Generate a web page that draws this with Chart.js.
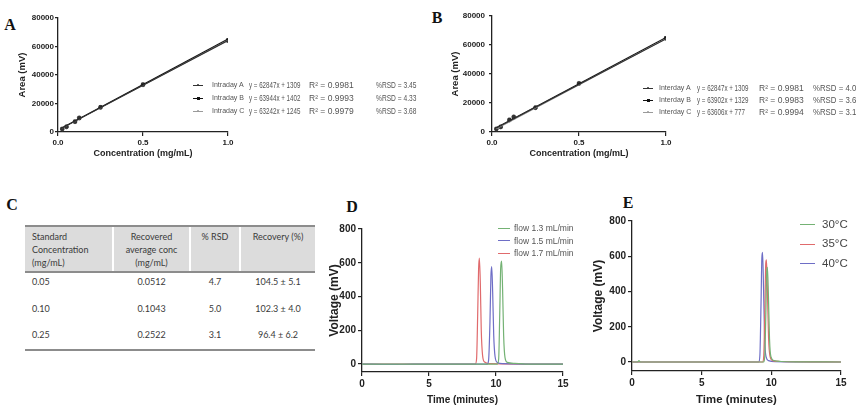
<!DOCTYPE html>
<html><head><meta charset="utf-8">
<script src="https://cdn.jsdelivr.net/npm/chart.js@4"></script>
<style>
html,body{margin:0;padding:0;background:#fff;}
body{width:861px;height:412px;overflow:hidden;position:relative;font-family:"Liberation Sans",Arial,sans-serif;}
canvas{position:absolute;}
.plbl{position:absolute;font-family:"Liberation Serif","Times New Roman",serif;font-weight:bold;font-size:16px;line-height:1;color:#111;transform:translate(-50%,-50%);}
.lg{position:absolute;white-space:nowrap;line-height:1;transform-origin:0 50%;}
.smp{position:absolute;height:0;}
.dot{position:absolute;}
.tbl{position:absolute;font-family:Lato,"Open Sans",sans-serif;font-size:9px;color:#3a3a3a;}
.cell{position:absolute;white-space:nowrap;line-height:13px;}
.hbg{position:absolute;background:#dcdcdc;}
.rule{position:absolute;background:#8c8c8c;}
</style></head>
<body>
<script>
// ---------- DATA ----------
// Panel A (intraday calibration)
const concA = [0.025, 0.05, 0.1, 0.125, 0.25, 0.5, 1.0];
const intraA = [2100, 3600, 7200, 10000, 17300, 33200, 64100];
const intraB = [2300, 3900, 7500, 9700, 17600, 33500, 64600];
const intraC = [2000, 3400, 7000, 9400, 16900, 32800, 64300];
const fitX = [0.025, 1.0];
const intraFitA = [2900, 64150];
const intraFitB = [3000, 65350];
const intraFitC = [2800, 64500];
const intraNames = ["Intraday A", "Intraday B", "Intraday C"];
const intraEq = ["y = 62847x + 1309", "y = 63944x + 1402", "y = 63242x + 1245"];
const intraR2 = ["R\u00b2 = 0.9981", "R\u00b2 = 0.9993", "R\u00b2 = 0.9979"];
const intraRsd = ["%RSD = 3.45", "%RSD = 4.33", "%RSD = 3.68"];
// Panel B (interday calibration)
const concB = [0.025, 0.05, 0.1, 0.125, 0.25, 0.5, 1.0];
const interA = [2100, 3500, 8300, 10500, 16800, 33600, 64600];
const interB = [2300, 3700, 8600, 9900, 17000, 33400, 64900];
const interC = [2000, 3300, 8000, 10200, 16500, 33200, 64300];
const interFitA = [2900, 64150];
const interFitB = [2900, 65230];
const interFitC = [2300, 64380];
const interNames = ["Interday A", "Interday B", "Interday C"];
const interEq = ["y = 62847x + 1309", "y = 63902x + 1329", "y = 63606x + 777"];
const interR2 = ["R\u00b2 = 0.9981", "R\u00b2 = 0.9983", "R\u00b2 = 0.9994"];
const interRsd = ["%RSD = 4.0", "%RSD = 3.6", "%RSD = 3.1"];
const calXTicks = [0, 0.5, 1.0];
const calYTicks = [0, 20000, 40000, 60000, 80000];
// Panel C (table)
const tblHead = [["Standard", "Concentration", "(mg/mL)"], ["Recovered", "average conc", "(mg/mL)"], ["% RSD"], ["Recovery (%)"]];
const stdConc = ["0.05", "0.10", "0.25"];
const recConc = ["0.0512", "0.1043", "0.2522"];
const recRsd = ["4.7", "5.0", "3.1"];
const recovery = ["104.5 \u00b1 5.1", "102.3 \u00b1 4.0", "96.4 \u00b1 6.2"];
// Panel D (flow rate chromatograms)
const flowNames = ["flow 1.3 mL/min", "flow 1.5 mL/min", "flow 1.7 mL/min"];
const f13Time = [0, 10.1, 10.2, 10.28, 10.35, 10.42, 10.49, 10.57, 10.67, 10.85, 11.4, 12.2, 15];
const f13Volt = [0, 0, 30, 300, 570, 610, 450, 170, 40, 10, 4, 0, 0];
const f15Time = [0, 2.2, 3.8, 9.35, 9.45, 9.55, 9.62, 9.68, 9.75, 9.83, 9.93, 10.1, 10.5, 15];
const f15Volt = [0, -2, 0, 0, 25, 250, 520, 578, 430, 170, 45, 10, 3, 0];
const f17Time = [0, 8.45, 8.55, 8.63, 8.7, 8.76, 8.83, 8.9, 9.0, 9.15, 9.5, 15];
const f17Volt = [0, 0, 30, 280, 560, 628, 480, 200, 50, 12, 3, 0];
// Panel E (temperature chromatograms)
const tempNames = ["30\u00b0C", "35\u00b0C", "40\u00b0C"];
const t30Time = [0, 0.4, 0.5, 0.6, 9.45, 9.53, 9.61, 9.67, 9.72, 9.79, 9.87, 9.97, 10.2, 10.7, 12, 15];
const t30Volt = [0, 0, 8, 0, 0, 35, 290, 510, 537, 380, 130, 30, 8, 3, 1, 0];
const t35Time = [0, 9.38, 9.46, 9.54, 9.6, 9.65, 9.72, 9.8, 9.9, 10.1, 10.6, 15];
const t35Volt = [0, 0, 40, 320, 560, 579, 400, 140, 35, 8, 3, 0];
const t40Time = [0, 2, 4, 9.1, 9.18, 9.26, 9.32, 9.37, 9.44, 9.52, 9.62, 9.8, 10.3, 15];
const t40Volt = [0, 0, 0, 0, 40, 330, 590, 622, 420, 130, 30, 8, 2, 0];
const chromXTicks = [0, 5, 10, 15];
const chromYTicks = [0, 200, 400, 600, 800];

// ---------- HELPERS ----------
const FONT = '"Liberation Sans", Arial, sans-serif';
const GREEN = '#74b274', BLUE = '#6e6ec6', RED = '#e06a6c';
const zip = (xs, ys) => xs.map((x, i) => ({x: x, y: ys[i]}));

function el(tag, cls, style, text) {
  const e = document.createElement(tag);
  if (cls) e.className = cls;
  Object.assign(e.style, style || {});
  if (text != null) e.textContent = text;
  document.body.appendChild(e);
  return e;
}
function makeCanvas(left, top, w, h) {
  const c = document.createElement('canvas');
  c.width = w; c.height = h;
  c.style.left = left + 'px'; c.style.top = top + 'px';
  c.style.width = w + 'px'; c.style.height = h + 'px';
  document.body.appendChild(c);
  return c;
}
function prismScale(o) {
  return {
    type: 'linear', min: o.min, max: o.max,
    afterFit: sc => { if (o.w != null) sc.width = o.w; if (o.h != null) sc.height = o.h; },
    afterBuildTicks: sc => { sc.ticks = o.ticks.map(v => ({value: v})); },
    grid: {display: true, drawOnChartArea: false, drawTicks: true, tickLength: o.tickLen || 4, color: '#222', lineWidth: 1.2},
    border: {display: true, color: '#222', width: 1.3},
    ticks: {color: '#222', font: {family: FONT, size: o.fs, weight: 'bold'}, padding: o.tpad, maxRotation: 0, minRotation: 0, autoSkip: false,
            callback: o.fmt || (v => String(v))},
    title: {display: true, text: o.title, color: '#222', font: {family: FONT, size: o.tfs, weight: 'bold'}, padding: o.titlePad}
  };
}
function baseOpts(pad, xs, ys) {
  return {
    responsive: false, animation: false, devicePixelRatio: 1,
    layout: {padding: pad},
    plugins: {legend: {display: false}, tooltip: {enabled: false}},
    scales: {x: xs, y: ys}
  };
}
function calChart(canvas, pad, yW, yTitlePad, tpadY, conc, series, fits) {
  const styles = [
    {c: '#333', ps: 'circle', r: 2},
    {c: '#111', ps: 'rect', r: 2},
    {c: '#8a8a8a', ps: 'circle', r: 1.6}
  ];
  const ds = [];
  fits.forEach((f, i) => ds.push({data: zip(fitX, f), showLine: true, borderColor: styles[i].c, borderWidth: 1.1, pointRadius: 0}));
  series.forEach((s, i) => ds.push({data: zip(conc, s), showLine: false, pointStyle: styles[i].ps, pointRadius: styles[i].r,
    backgroundColor: styles[i].c, borderColor: styles[i].c, borderWidth: 0.5}));
  new Chart(canvas, {type: 'scatter', data: {datasets: ds},
    options: baseOpts(pad,
      prismScale({min: 0, max: 1, ticks: calXTicks, fs: 8, tpad: 2, h: 33, title: 'Concentration (mg/mL)', tfs: 9, titlePad: {top: 0, bottom: 6.5}, fmt: v => v.toFixed(1)}),
      prismScale({min: 0, max: 80000, ticks: calYTicks, fs: 8, tpad: tpadY, tickLen: 3, w: yW, title: 'Area (mV)', tfs: 9.5, titlePad: {top: yTitlePad, bottom: 0}}))});
}
function chromChart(canvas, pad, yW, yTitlePad, yMin, xfs, xtitleSize, xTitleBottom, h, sets) {
  const ds = sets.map(s => ({data: zip(s.t, s.v), showLine: true, borderColor: s.c, borderWidth: 1.2, pointRadius: 0,
    cubicInterpolationMode: 'monotone'}));
  new Chart(canvas, {type: 'scatter', data: {datasets: ds},
    options: baseOpts(pad,
      prismScale({min: 0, max: 15, ticks: chromXTicks, fs: xfs, tpad: 2, h: h, title: 'Time (minutes)', tfs: xtitleSize, titlePad: {top: 0, bottom: xTitleBottom}}),
      prismScale({min: yMin, max: 800, ticks: chromYTicks, fs: 10, tpad: 2, w: yW, title: 'Voltage (mV)', tfs: 12, titlePad: {top: yTitlePad, bottom: 0}}))});
}
function legendRow(x, y, color, marker, lineLen, texts, tcolor) {
  el('div', 'smp', {left: x + 'px', top: (y - 0.5) + 'px', width: lineLen + 'px', borderTop: '1.2px solid ' + color});
  if (marker) {
    const m = marker.size;
    el('div', 'dot', {left: (x + lineLen / 2 - m / 2) + 'px', top: (y - m / 2 + 0.2) + 'px', width: m + 'px', height: m + 'px',
      background: color, borderRadius: marker.round ? '50%' : '0'});
  }
  texts.forEach(t => {
    el('div', 'lg', {left: t.x + 'px', top: y + 'px', fontSize: t.fs + 'px', color: tcolor,
      transform: 'translateY(-50%) scaleX(' + (t.sx || 1) + ')'}, t.text);
  });
}

// ---------- PANEL LABELS ----------
el('div', 'plbl', {left: '10px', top: '25px'}, 'A');
el('div', 'plbl', {left: '437px', top: '18px'}, 'B');
el('div', 'plbl', {left: '12px', top: '205px'}, 'C');
el('div', 'plbl', {left: '352px', top: '207px'}, 'D');
el('div', 'plbl', {left: '628px', top: '203px'}, 'E');

// ---------- PANEL A ----------
calChart(makeCanvas(0, 0, 240, 165), {left: 0, top: 18, right: 12, bottom: 0}, 58, 16.3, 1, concA,
  [intraA, intraB, intraC], [intraFitA, intraFitB, intraFitC]);
const calLegStyles = [{c: '#333', m: {size: 2.6, round: true}}, {c: '#111', m: {size: 3, round: false}}, {c: '#9a9a9a', m: {size: 2.2, round: true}}];
const rowsA = [85, 98, 111];
rowsA.forEach((y, i) => legendRow(193, y, calLegStyles[i].c, calLegStyles[i].m, 10, [
  {x: 212, text: intraNames[i], fs: 7.8, sx: 0.9}, {x: 249, text: intraEq[i], fs: 8.5, sx: 0.73},
  {x: 309, text: intraR2[i], fs: 8.5}, {x: 376, text: intraRsd[i], fs: 8.5, sx: 0.78}
], '#555'));

// ---------- PANEL B ----------
calChart(makeCanvas(430, 0, 248, 165), {left: 0, top: 16, right: 12, bottom: 0}, 62, 19.3, 4, concB,
  [interA, interB, interC], [interFitA, interFitB, interFitC]);
const rowsB = [88, 100, 112];
rowsB.forEach((y, i) => legendRow(643, y, calLegStyles[i].c, calLegStyles[i].m, 10, [
  {x: 659, text: interNames[i], fs: 7.8, sx: 0.9}, {x: 697, text: interEq[i], fs: 8.5, sx: 0.73},
  {x: 759, text: interR2[i], fs: 8.5}, {x: 813, text: interRsd[i], fs: 8.5, sx: 0.92}
], '#555'));

// ---------- PANEL C (table) ----------
(function () {
  const left = 25, right = 315;
  const cols = [[25, 112], [114, 189], [191, 239], [241, 315]];
  el('div', 'rule', {left: left + 'px', top: '225px', width: (right - left) + 'px', height: '2px'});
  cols.forEach(c => el('div', 'hbg', {left: c[0] + 'px', top: '227px', width: (c[1] - c[0]) + 'px', height: '44px'}));
  el('div', 'rule', {left: left + 'px', top: '271px', width: (right - left) + 'px', height: '2px'});
  el('div', 'rule', {left: left + 'px', top: '349px', width: (right - left) + 'px', height: '2px'});
  tblHead.forEach((lines, ci) => {
    lines.forEach((ln, li) => {
      const c = cols[ci];
      const st = {top: (229.5 + li * 13) + 'px'};
      if (ci === 0) st.left = '32px';
      else { st.left = c[0] + 'px'; st.width = (c[1] - c[0]) + 'px'; st.textAlign = 'center'; }
      el('div', 'tbl cell', st, ln);
    });
  });
  const body = [stdConc, recConc, recRsd, recovery];
  const rowY = [281, 308, 334];
  body.forEach((colVals, ci) => {
    colVals.forEach((v, ri) => {
      const c = cols[ci];
      const st = {top: (rowY[ri] - 6.5) + 'px'};
      if (ci === 0) st.left = '32px';
      else { st.left = c[0] + 'px'; st.width = (c[1] - c[0]) + 'px'; st.textAlign = 'center'; }
      el('div', 'tbl cell', st, v);
    });
  });
})();

// ---------- PANEL D ----------
chromChart(makeCanvas(325, 190, 248, 222), {left: 0, top: 39, right: 10, bottom: 0}, 37, 2, -47, 10, 10, 6, 40, [
  {t: f13Time, v: f13Volt, c: GREEN}, {t: f15Time, v: f15Volt, c: BLUE}, {t: f17Time, v: f17Volt, c: RED}
]);
const flowColors = [GREEN, BLUE, RED];
[228, 240.5, 253].forEach((y, i) => legendRow(498, y, flowColors[i], null, 12, [{x: 514, text: flowNames[i], fs: 8.5}], '#555'));

// ---------- PANEL E ----------
chromChart(makeCanvas(590, 190, 271, 222), {left: 0, top: 31, right: 20, bottom: 0}, 42, 1, -51, 10, 11.4, 5, 41, [
  {t: t30Time, v: t30Volt, c: GREEN}, {t: t35Time, v: t35Volt, c: RED}, {t: t40Time, v: t40Volt, c: BLUE}
]);
const tempColors = [GREEN, RED, BLUE];
[224.5, 244, 263.5].forEach((y, i) => legendRow(800, y, tempColors[i], null, 15, [{x: 822, text: tempNames[i], fs: 11.5}], '#444'));
</script>
</body></html>
